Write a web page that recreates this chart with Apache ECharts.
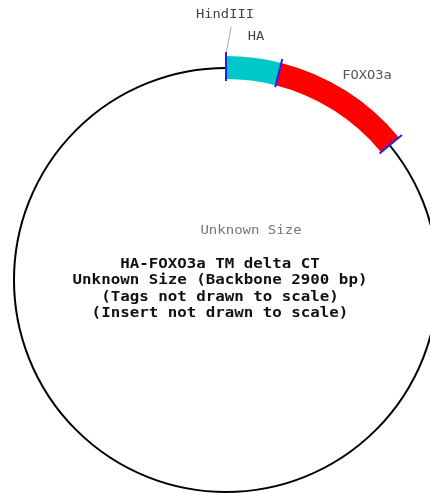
<!DOCTYPE html>
<html><head><meta charset="utf-8">
<script src="https://cdn.jsdelivr.net/npm/echarts@6/dist/echarts.min.js"></script>
<style>html,body{margin:0;padding:0;background:#fff}#c{width:430px;height:493px}</style>
</head><body><div id="c"></div>
<script>
// Feature data (angles in degrees, clockwise from top; not drawn to scale)
const featureNames = ['HA', 'FOXO3a'];
const featureStarts = [0, 14.3];
const featureEnds = [14.3, 50.5];
const featureColors = ['#00c8c8', '#ff0000'];
const siteNames = ['HindIII'];
const siteAngles = [0];
const centerLines = ['HA-FOXO3a TM delta CT', 'Unknown Size (Backbone 2900 bp)', '(Tags not drawn to scale)', '(Insert not drawn to scale)'];
const sizeLabel = 'Unknown Size';

const CX = 226, CY = 280;
const mono = 'DejaVu Sans Mono';

const series = [];
featureNames.forEach((n, i) => {
  series.push({
    type: 'bar', name: n, coordinateSystem: 'polar', polarIndex: 0, stack: 'ring',
    barWidth: '100%', data: [featureEnds[i] - featureStarts[i]],
    itemStyle: { color: featureColors[i] }, z: 3, silent: true
  });
});
// boundaries
const bounds = [...new Set(featureStarts.concat(featureEnds))];
bounds.forEach(a => {
  series.push({
    type: 'line', coordinateSystem: 'polar', polarIndex: 2, clip: false, symbol: 'none',
    data: [[199, a], [228, a]], lineStyle: { color: '#2020ff', width: 2 }, z: 5, silent: true
  });
});
// site leader line
siteAngles.forEach(a => {
  series.push({
    type: 'line', coordinateSystem: 'polar', polarIndex: 2, clip: false, symbol: 'none',
    data: [[226, a], [253, a + 1.15]], lineStyle: { color: '#aaa', width: 1 }, z: 4, silent: true
  });
});

const texts = [
  { x: 225, y: 15, t: siteNames[0], c: '#444', s: 12.5, k: 1.1 },
  { x: 256, y: 37, t: featureNames[0], c: '#444', s: 12.5, k: 1.1 },
  { x: 367, y: 76, t: featureNames[1], c: '#555', s: 12.5, k: 1.1 },
  { x: 251, y: 231, t: sizeLabel, c: '#777', s: 12.5, k: 1.12 }
];
const graphic = texts.map(o => ({
  type: 'text', x: o.x, y: o.y, scaleX: o.k, silent: true,
  style: { text: o.t, fill: o.c, font: `${o.s}px "${mono}"`, textAlign: 'center', textVerticalAlign: 'middle' }
}));
const lineYs = [264, 280, 297, 313];
centerLines.forEach((t, i) => {
  graphic.push({
    type: 'text', x: 220, y: lineYs[i], scaleX: 1.17, silent: true,
    style: { text: t, fill: '#111', font: `bold 13.5px "${mono}"`, textAlign: 'center', textVerticalAlign: 'middle' }
  });
});

const hiddenAxis = { axisLine: { show: false }, axisTick: { show: false }, axisLabel: { show: false }, splitLine: { show: false } };

const chart = echarts.init(document.getElementById('c'), null, { renderer: 'canvas' });
chart.setOption({
  animation: false,
  backgroundColor: '#fff',
  polar: [
    { center: [CX, CY], radius: [201, 224] },
    { center: [CX, CY], radius: 212 },
    { center: [CX, CY], radius: 280 }
  ],
  angleAxis: [
    Object.assign({ polarIndex: 0, type: 'value', min: 0, max: 360, startAngle: 90, clockwise: true }, hiddenAxis),
    { polarIndex: 1, type: 'value', min: 0, max: 360, startAngle: 90, clockwise: true,
      axisLine: { show: true, lineStyle: { color: '#000', width: 2 } },
      axisTick: { show: false }, axisLabel: { show: false }, splitLine: { show: false } },
    Object.assign({ polarIndex: 2, type: 'value', min: 0, max: 360, startAngle: 90, clockwise: true }, hiddenAxis)
  ],
  radiusAxis: [
    Object.assign({ polarIndex: 0, type: 'category', data: ['ring'] }, hiddenAxis),
    Object.assign({ polarIndex: 1, type: 'value', min: 0, max: 212 }, hiddenAxis),
    Object.assign({ polarIndex: 2, type: 'value', min: 0, max: 280 }, hiddenAxis)
  ],
  series: series,
  graphic: graphic
});
</script></body></html>
